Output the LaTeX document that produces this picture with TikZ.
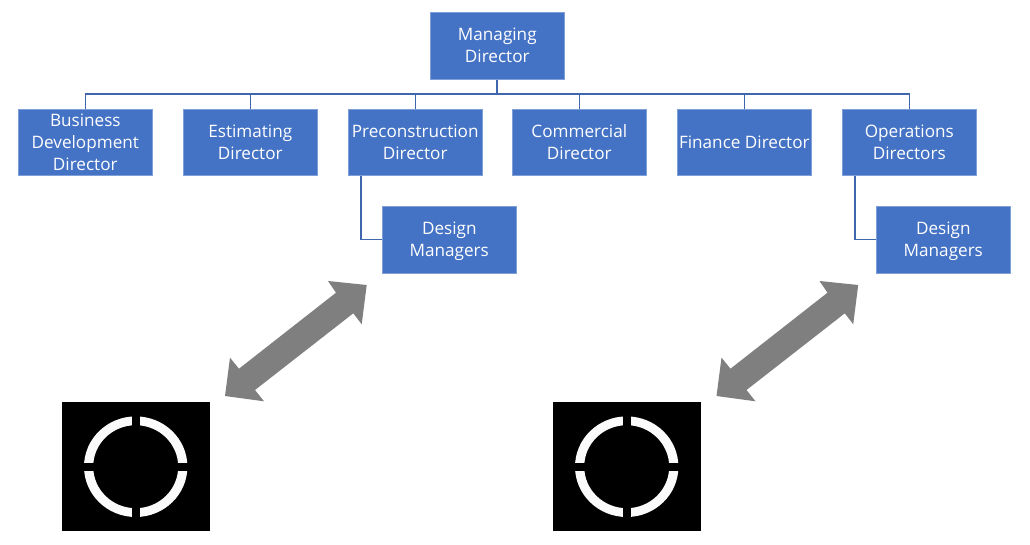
\documentclass[tikz,border=0pt]{standalone}
\usepackage{fontspec}
\setmainfont{Open Sans}
\definecolor{boxblue}{HTML}{4472C4}
\definecolor{boxedge}{HTML}{7F9FD8}
\definecolor{linkblue}{HTML}{3F67AE}
\definecolor{arrowgrey}{HTML}{7F7F7F}
\definecolor{ringwhite}{HTML}{FBFBFB}
\begin{document}
\begin{tikzpicture}[x=0.75pt,y=-0.75pt,
  orgfont/.style={text=white,align=center,inner sep=0pt,font=\fontsize{12.85}{16.6}\selectfont},
  orgbox/.style={rectangle,fill=boxblue,draw=boxedge,line width=0.5pt,orgfont,
    minimum width=100.8pt,minimum height=50pt},
  textup/.style={orgfont,yshift=0.75pt},
  textdown/.style={orgfont,yshift=-1.15pt},
  link/.style={draw=linkblue,line width=1pt},
  trunk/.style={draw=linkblue,line width=1.6pt},
  blockarrow/.style={fill=arrowgrey,draw=none}]
\useasboundingbox (0,0) rectangle (1030,545);
\fill[white] (0,0) rectangle (1030,545);
\node[orgbox,label={[textup]center:{Managing\\Director}}] (md) at (497.3,46) {};
\node[orgbox] (bd) at (85.3,142.5) {Business\\Development\\Director};
\node[orgbox] (est) at (250.3,142.5) {Estimating\\Director};
\node[orgbox] (pre) at (415.2,142.5) {Preconstruction\\Director};
\node[orgbox] (com) at (579.3,142.5) {Commercial\\Director};
\node[orgbox] (fin) at (744.3,142.5) {Finance Director};
\node[orgbox] (ops) at (909.3,142.5) {Operations\\Directors};
\node[orgbox,label={[textdown]center:{Design\\Managers}}] (dm1) at (449.3,239.5) {};
\node[orgbox,label={[textdown]center:{Design\\Managers}}] (dm2) at (943.3,239.5) {};
\coordinate (bus) at (0,94);
\draw[trunk] (md.south) -- (md.south |- bus);
\foreach \c in {bd,est,pre,com,fin,ops}
  \draw[link] (md.south |- bus) -| (\c.north);
\coordinate (p1) at (361,176);
\coordinate (p2) at (855,176);
\draw[link] (p1) |- (dm1.west);
\draw[link] (p2) |- (dm2.west);
\foreach \dx/\bx in {0/0,491.5/491}{
\begin{scope}[xshift=\dx*0.75pt]
  \fill[blockarrow] (366.7,285) -- (328,281) -- (336,292.7) -- (239,368.7) -- (230,357.7) -- (225,396)
    -- (264,401.3) -- (255,390) -- (353.3,313.3) -- (361.7,324.3) -- cycle;
\end{scope}
\begin{scope}[xshift=\bx*0.75pt]
  \fill[black] (62,402) rectangle (210,531);
  \fill[ringwhite,even odd rule] (135.7,466.7) ellipse [x radius=51.7,y radius=50.3]
     (135.7,466.7) ellipse [x radius=42.5,y radius=41.5];
  \fill[black] (131.5,410) rectangle (140.2,525);
  \fill[black] (78,462.5) rectangle (194,470.7);
\end{scope}}
\end{tikzpicture}
\end{document}
